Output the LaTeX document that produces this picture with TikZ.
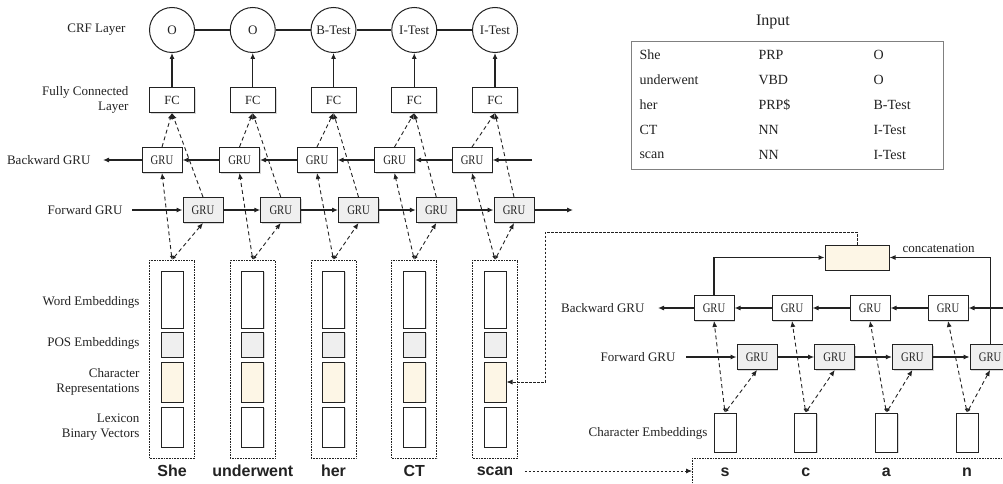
\documentclass[tikz,border=0pt]{standalone}
\usepackage{fontspec}
\usepackage{graphicx}
\setmainfont{Liberation Serif}
\newfontfamily\arialfont{Liberation Sans}
\usetikzlibrary{arrows.meta,shadows,calc}
\definecolor{cream}{HTML}{FDF6E6}
\definecolor{lgray}{HTML}{EFEFEF}
\definecolor{ink}{HTML}{222222}
\begin{document}
\begin{tikzpicture}[x=1pt,y=-1pt,
  every node/.style={font=\fontsize{13}{15}\selectfont, text=ink},
  lbl/.style={anchor=east, align=right},
  tbl/.style={anchor=west, font=\fontsize{14}{16}\selectfont},
  shd/.style={drop shadow={shadow xshift=1.3pt,shadow yshift=-1.3pt,opacity=0.3}},
  crf/.style={circle, draw=ink, line width=1pt, minimum size=45pt, inner sep=0pt, fill=white},
  fcbox/.style={draw=ink, line width=1pt, minimum width=45pt, minimum height=25pt, inner sep=0pt, fill=white, shd, font=\fontsize{12.5}{14}\selectfont},
  gru/.style={draw=ink, line width=1pt, minimum width=40pt, minimum height=25pt, inner sep=0pt, fill=white, shd, font=\fontsize{13}{14}\selectfont},
  fgru/.style={gru, fill=lgray},
  emb/.style={draw=ink, line width=1pt, minimum width=22pt, inner sep=0pt, fill=white, shd},
  grp/.style={draw=ink, densely dotted, line width=0.6pt, minimum width=45pt, minimum height=198pt, inner sep=0pt},
  word/.style={font=\arialfont\bfseries\fontsize{16}{18}\selectfont},
  sarr/.style={draw=ink, line width=1.1pt, -{Latex[length=6pt,width=5pt]}},
  sline/.style={draw=ink, line width=1.1pt},
  darr/.style={draw=ink, line width=0.9pt, dash pattern=on 4pt off 3pt, {Latex[length=4pt,width=3.5pt]}-{Latex[length=6pt,width=5pt]}},
  darr1/.style={draw=ink, line width=0.9pt, dash pattern=on 4pt off 3pt, -{Latex[length=6pt,width=5pt]}},
  sdash/.style={draw=ink, line width=0.8pt, dash pattern=on 2.5pt off 1.5pt, -{Latex[length=6pt,width=5pt]}},
]
\clip (0,0) rectangle (1003,484);
\fill[white] (0,0) rectangle (1003,484);
\newcommand{\gtxt}{\scalebox{0.82}[1]{GRU}}

% ---------- left labels ----------
\node[lbl] (lcrf) at (129,30) {CRF Layer};
\node[lbl] (lfc) at (132,100) {Fully Connected\\Layer};
\node[lbl] (lbw) at (94,160) {Backward GRU};
\node[lbl] (lfw) at (126,210) {Forward GRU};
\node[lbl] (lwe) at (143,302) {Word Embeddings};
\node[lbl] (lpos) at (143,343) {POS Embeddings};
\node[lbl] (lch) at (143,382) {Character\\Representations};
\node[lbl] (llx) at (143,427) {Lexicon\\Binary Vectors};

% ---------- columns ----------
\foreach \i/\lab/\w in {1/O/She,2/O/underwent,3/B-Test/her,4/I-Test/CT,5/I-Test/scan}{
  \pgfmathsetmacro{\xc}{172+80.75*(\i-1)}
  \pgfmathsetmacro{\xb}{162+77.5*(\i-1)}
  \pgfmathsetmacro{\xf}{203+77.75*(\i-1)}
  \node[crf] (c\i) at (\xc,30) {\lab};
  \node[fcbox] (fc\i) at (\xc,100) {FC};
  \node[gru] (b\i) at (\xb,160) {\gtxt};
  \node[fgru] (f\i) at (\xf,210) {\gtxt};
  \node[grp] (g\i) at (\xc,359) {};
  \node[emb, minimum height=57pt] (we\i) at (\xc,299.5) {};
  \node[emb, minimum height=25pt, fill=lgray] (pos\i) at (\xc,344.5) {};
  \node[emb, minimum height=40pt, fill=cream] (ch\i) at (\xc,382) {};
  \node[emb, minimum height=40pt] (lx\i) at (\xc,427) {};
  \node[word] (w\i) at (\xc,471) {\w};
  \draw[sarr] (fc\i.north) -- (c\i.south);
  \draw[darr1] (b\i.north) -- (fc\i.south);
  \draw[darr1] (f\i.north) -- (fc\i.south);
  \draw[darr] (g\i.north) -- (b\i.south);
  \draw[darr] (g\i.north) -- (f\i.south);
}
\foreach \i/\j in {1/2,2/3,3/4,4/5}{
  \draw[sline] (c\i) -- (c\j);
  \draw[sarr] (b\j.west) -- (b\i.east);
  \draw[sarr] (f\i.east) -- (f\j.west);
}
\coordinate (bstart) at (532,160);
\coordinate (bend) at (103,160);
\coordinate (fstart) at (132,210);
\coordinate (fend) at (573,210);
\draw[sarr] (bstart) -- (b5.east);
\draw[sarr] (b1.west) -- (bend);
\draw[sarr] (fstart) -- (f1.west);
\draw[sarr] (f5.east) -- (fend);

% ---------- input table ----------
\node[font=\fontsize{16}{18}\selectfont] (intitle) at (773,22) {Input};
\draw[draw=gray, line width=0.8pt] (631,41) rectangle (943,169);
\foreach \y/\a/\b/\c in {55/She/PRP/O,80/underwent/VBD/O,105/her/PRP\$/B-Test,130/CT/NN/I-Test,155/scan/NN/I-Test}{
  \node[tbl] at (636,\y) {\a};
  \node[tbl] at (755,\y) {\b};
  \node[tbl] at (870,\y) {\c};
}

% ---------- character-level part ----------
\node[lbl] (rlbw) at (648,308) {Backward GRU};
\node[lbl] (rlfw) at (679,357) {Forward GRU};
\node[lbl] (rlce) at (711,433) {Character Embeddings};
\node[anchor=west] (lconc) at (899,248) {concatenation};
\node[draw=ink, line width=1pt, minimum width=64pt, minimum height=25pt, inner sep=0pt, fill=cream, shd] (cc) at (857,257.5) {};

\foreach \i/\ch in {1/s,2/c,3/a,4/n}{
  \pgfmathsetmacro{\xe}{725+80.7*(\i-1)}
  \pgfmathsetmacro{\xb}{714+78*(\i-1)}
  \pgfmathsetmacro{\xf}{757+77.7*(\i-1)}
  \node[gru] (rb\i) at (\xb,308) {\gtxt};
  \node[fgru] (rf\i) at (\xf,357) {\gtxt};
  \node[emb, minimum height=39pt] (ce\i) at (\xe,432.5) {};
  \node[word] (lt\i) at (\xe,472) {\ch};
  \draw[darr] (ce\i.north) -- (rb\i.south);
  \draw[darr] (ce\i.north) -- (rf\i.south);
}
\foreach \i/\j in {1/2,2/3,3/4}{
  \draw[sarr] (rb\j.west) -- (rb\i.east);
  \draw[sarr] (rf\i.east) -- (rf\j.west);
}
\coordinate (rbstart) at (1003,308);
\coordinate (rbend) at (658,308);
\coordinate (rfstart) at (686,357);
\draw[sarr] (rbstart) -- (rb4.east);
\draw[sarr] (rb1.west) -- (rbend);
\draw[sarr] (rfstart) -- (rf1.west);
\draw[sarr] (rb1.north) |- (cc.west);
\draw[sarr] (rf4.north) |- (cc.east);

% feedback from concatenation to character representation
\coordinate (fb) at (545,232);
\draw[sdash] (cc.north) |- (fb) |- (ch5.east);

% letters box
\draw[draw=ink, densely dotted, line width=0.6pt] (692,458) rectangle (1010,490);
\coordinate (lbw) at (692,471);
\draw[sdash, shorten <=8pt] (w5.east) -- (lbw);
\end{tikzpicture}
\end{document}
